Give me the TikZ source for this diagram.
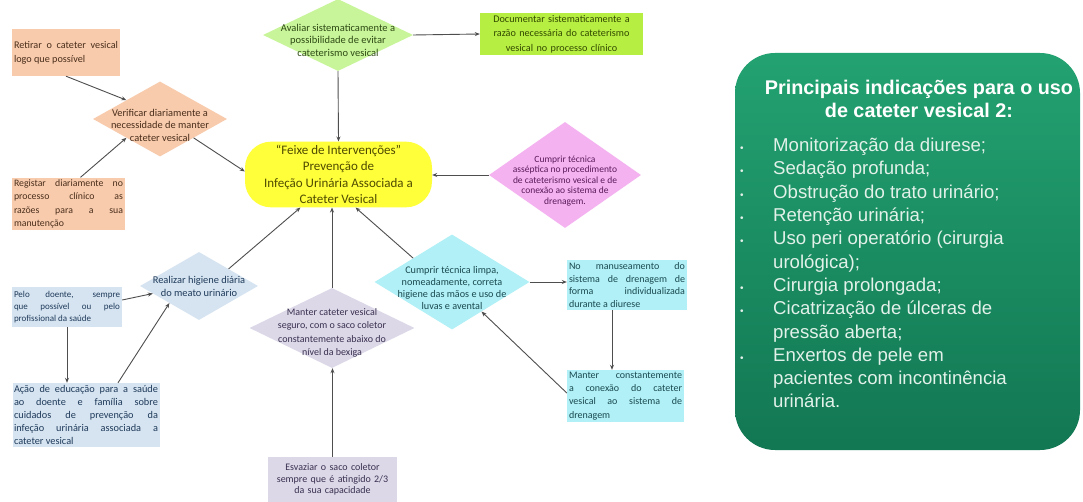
\documentclass[tikz,border=0pt]{standalone}
\usepackage{fontspec}
\setmainfont{Carlito}
\newfontfamily\arialf{Liberation Sans}
\usetikzlibrary{shapes.geometric,arrows.meta,calc}
\definecolor{orf}{HTML}{F8CBAD}\definecolor{ort}{HTML}{4A2E1A}
\definecolor{gdf}{HTML}{C8F59A}\definecolor{gdt}{HTML}{2E4A14}
\definecolor{docf}{HTML}{B6EE42}\definecolor{doct}{HTML}{334A00}
\definecolor{yelf}{HTML}{FFFF3A}\definecolor{yelt}{HTML}{4F4A00}
\definecolor{pkf}{HTML}{F4B2F0}\definecolor{pkt}{HTML}{5A1A5A}
\definecolor{lbf}{HTML}{D6E4F1}\definecolor{lbt}{HTML}{1F3A5A}
\definecolor{lvf}{HTML}{DCD8E8}\definecolor{lvt}{HTML}{3A3050}
\definecolor{cyf}{HTML}{B0F0F6}\definecolor{cyt}{HTML}{1A4A50}
\definecolor{arrc}{HTML}{4E4E4E}
\definecolor{gtop}{HTML}{23A271}\definecolor{gbot}{HTML}{127753}
\definecolor{bult}{HTML}{E2F1EA}
\newcommand\bulmark{\makebox[33pt][l]{\fontsize{10}{10}\selectfont\textbullet}}
\newcommand\fs[2]{\fontsize{#1}{#2}\selectfont}
\begin{document}
\begin{tikzpicture}[x=1pt,y=-1pt,
  rbox/.style={rectangle, draw=none, inner sep=2pt, align=justify},
  cbox/.style={rectangle, draw=none, inner sep=2pt, align=center},
  diam/.style={diamond, draw=none, inner sep=0pt},
  lbl/.style={align=center, inner sep=0pt},
  arr/.style={-{Stealth[length=5pt,width=4pt]}, draw=arrc, line width=0.9pt}]
\useasboundingbox (0,0) rectangle (1083,502);
\fill[white] (0,0) rectangle (1083,502);

% orange group
\node[rbox, fill=orf, text=ort, text width=104pt, minimum height=47pt, font=\fs{10.2}{14}] (o1) at (66,52.5)
  {Retirar o cateter vesical\linebreak logo que possível};
\node[diam, fill=orf, minimum width=134pt, minimum height=75pt] (od) at (160,119) {};
\node[lbl, text=ort, font=\fs{10.4}{12.5}] (odt) at ([yshift=-6pt]od.center) {Verificar diariamente a\\necessidade de manter\\cateter vesical};
\node[rbox, fill=orf, text=ort, text width=109pt, minimum height=52pt, font=\fs{9.8}{13.5}] (o2) at (68.5,204)
  {Registar diariamente no\linebreak processo clínico as\linebreak razões para a sua\linebreak manutenção};

% top green group
\node[diam, fill=gdf, minimum width=150pt, minimum height=72pt] (gd) at (338,35) {};
\node[lbl, text=gdt, font=\fs{10.5}{12.5}] (gdt) at ([yshift=-5pt]gd.center) {Avaliar sistematicamente a\\possibilidade de evitar\\cateterismo vesical};
\node[cbox, fill=docf, text=doct, text width=159pt, minimum height=42pt, font=\fs{10.2}{14.5}] (doc) at (561.5,34)
  {Documentar sistematicamente a\\razão necessária do cateterismo\\vesical no processo clínico};

% center
\node[rectangle, rounded corners=26pt, fill=yelf, text=yelt, minimum width=187pt, minimum height=65pt,
  align=center, font=\fs{13}{16.5}] (y) at (338.5,174.5)
  {“Feixe de Intervenções”\\Prevenção de\\Infeção Urinária Associada a\\Cateter Vesical};

% pink
\node[diam, fill=pkf, minimum width=152pt, minimum height=106pt] (pk) at (565,175) {};
\node[lbl, text=pkt, font=\fs{9.5}{10.5}] (pkt) at ([yshift=-6pt]pk.center) {Cumprir técnica\\asséptica no procedimento\\de cateterismo vesical e de\\conexão ao sistema de\\drenagem.};

% light blue group
\node[diam, fill=lbf, minimum width=118pt, minimum height=68pt] (hb) at (199,286) {};
\node[lbl, text=lbt, font=\fs{10.4}{13}] (hbt) at (hb.center) {Realizar higiene diária\\do meato urinário};
\node[rbox, fill=lbf, text=lbt, text width=106pt, minimum height=40pt, font=\fs{9}{11.7}] (p) at (67,307)
  {Pelo doente, sempre\linebreak que possível ou pelo\linebreak profissional da saúde};
\node[rbox, fill=lbf, text=lbt, text width=144pt, minimum height=64pt, inner sep=1.5pt, font=\fs{10.3}{13}] (a) at (86,415)
  {Ação de educação para a saúde\linebreak ao doente e família sobre\linebreak cuidados de prevenção da\linebreak infeção urinária associada a\linebreak cateter vesical};

% lavender group
\node[diam, fill=lvf, minimum width=165pt, minimum height=80pt] (ld) at (332,328) {};
\node[lbl, text=lvt, font=\fs{10}{13.3}] (ldt) at ([yshift=-5pt]ld.center) {Manter cateter vesical\\seguro, com o saco coletor\\constantemente abaixo do\\nível da bexiga};
\node[cbox, fill=lvf, text=lvt, text width=125pt, minimum height=45pt, font=\fs{10}{11.8}] (lb) at (332.5,479.5)
  {Esvaziar o saco coletor\\sempre que é atingido 2/3\\da sua capacidade};

% cyan group
\node[diam, fill=cyf, minimum width=155pt, minimum height=95pt] (cd) at (452,282) {};
\node[lbl, text=cyt, font=\fs{10.2}{12.3}] (cdt) at ([yshift=-6pt]cd.center) {Cumprir técnica limpa,\\nomeadamente, correta\\higiene das mãos e uso de\\luvas e avental};
\node[rbox, fill=cyf, text=cyt, text width=116pt, minimum height=50pt, font=\fs{10}{12.7}] (nm) at (627,285)
  {No manuseamento do\linebreak sistema de drenagem de\linebreak forma individualizada\linebreak durante a diurese};
\node[rbox, fill=cyf, text=cyt, text width=113pt, minimum height=52pt, font=\fs{10}{13.2}] (mc) at (625.5,396)
  {Manter constantemente\linebreak a conexão do cateter\linebreak vesical ao sistema de\linebreak drenagem};

% connectors
\draw[arr] (o1.south) -- (od.north west);
\draw[arr] ([xshift=12pt]o2.north) -- (od.south west);
\draw[arr] (od.south east) -- ([yshift=3pt]y.west);
\draw[arr] (gd.south) -- (y.north);
\draw[arr] (gd.east) -- (doc.west);
\draw[arr] (pk.west) -- (pk.west -| y.east);
\draw[arr] (hb.north east) -- ([xshift=-38pt]y.south);
\draw[arr] ([yshift=7pt]p.east) -- ($(hb.west)!0.22!(hb.south)$);
\draw[arr] (p.south) -- (p.south |- a.north);
\draw[arr] ([xshift=32pt]a.north) -- (hb.south west);
\draw[arr] (lb.north) -- (lb.north |- ld.south);
\draw[arr] (ld.north) -- (ld.north |- y.south);
\draw[arr] (cd.north west) -- ([xshift=17pt]y.south);
\draw[arr] (cd.east) -- (cd.east -| nm.west);
\draw[arr] ([xshift=-15pt]nm.south) -- ([xshift=-15pt]nm.south |- mc.north);
\draw[arr] ([yshift=3pt]mc.west) -- ($(cd.east)!0.62!(cd.south)$);

% right green panel
\node[rectangle, rounded corners=40pt, top color=gtop, bottom color=gbot, draw=none,
  minimum width=345pt, minimum height=397pt] (gb) at (907.5,251.5) {};
\node[align=center, text=white, inner sep=0pt,
  font=\arialf\bfseries\fs{19.8}{23}] (gt) at (919,98.5)
  {Principais indicações para o uso\\de cateter vesical 2:};
\node[anchor=north west, align=left, text=bult, inner sep=0pt,
  font=\arialf\fs{18.6}{23.3}] (gl) at (740,138)
  {\bulmark Monitorização da diurese;\\
   \bulmark Sedação profunda;\\
   \bulmark Obstrução do trato urinário;\\
   \bulmark Retenção urinária;\\
   \bulmark Uso peri operatório (cirurgia\\
   \hspace*{33pt}urológica);\\
   \bulmark Cirurgia prolongada;\\
   \bulmark Cicatrização de úlceras de\\
   \hspace*{33pt}pressão aberta;\\
   \bulmark Enxertos de pele em\\
   \hspace*{33pt}pacientes com incontinência\\
   \hspace*{33pt}urinária.};
\end{tikzpicture}
\end{document}
